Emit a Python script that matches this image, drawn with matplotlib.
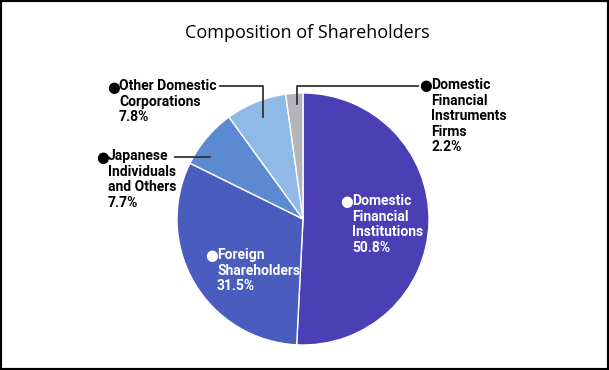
import matplotlib
matplotlib.use("Agg")
import matplotlib.pyplot as plt
from matplotlib import patches

# data
labels = ["Domestic\nFinancial\nInstitutions\n50.8%",
          "Foreign\nShareholders\n31.5%",
          "Japanese\nIndividuals\nand Others\n7.7%",
          "Other Domestic\nCorporations\n7.8%",
          "Domestic\nFinancial\nInstruments\nFirms\n2.2%"]
shares = [50.8, 31.5, 7.7, 7.8, 2.2]
colors = ["#4a3fb4", "#4a5cbe", "#5b8ad3", "#8fb9e6", "#b4b4bc"]

W, H = 609, 370
def Y(y):
    return H - y

fig = plt.figure(figsize=(W / 100, H / 100), dpi=100)
ax = fig.add_axes([0, 0, 1, 1])

ax.pie(shares, colors=colors, startangle=90, counterclock=False,
       center=(303, Y(219)), radius=126,
       wedgeprops=dict(edgecolor="white", linewidth=1.0))
ax.set_xlim(0, W)
ax.set_ylim(0, H)
ax.set_aspect("auto")
ax.axis("off")

fam = ["Roboto", "DejaVu Sans"]
fs = 10
ls = 1.14

# (bullet x, text x, first line centre y, colour)
pos = [(340, 352, 202, "white"),
       (205, 217, 256, "white"),
       (96, 108, 157, "black"),
       (107, 119, 87, "black"),
       (419, 431, 86, "black")]

for lab, (bx, tx, ty, c) in zip(labels, pos):
    ax.text(bx, Y(ty), "\u25cf", color=c, fontsize=10.5, ha="left", va="center",
            family="DejaVu Sans")
    ax.text(tx, Y(ty - 8), lab, color=c, fontsize=fs, fontweight="bold",
            family=fam, ha="left", va="top", linespacing=ls)

lc = "#333333"
ax.plot([220, 263, 263], [Y(86), Y(86), Y(117)], color=lc, lw=1.3)
ax.plot([175, 210], [Y(157), Y(157)], color=lc, lw=1.3)
ax.plot([418, 297, 297], [Y(86), Y(86), Y(104)], color=lc, lw=1.3)

fig.text(307 / W, 1 - 33 / H, "Composition of Shareholders", ha="center",
         va="center", fontsize=13, family="Open Sans", color="black")

fig.patches.append(patches.Rectangle((0, 0), 1, 1, transform=fig.transFigure,
                                     fill=False, ec="black", lw=3))

fig.savefig("out.png", dpi=100)
